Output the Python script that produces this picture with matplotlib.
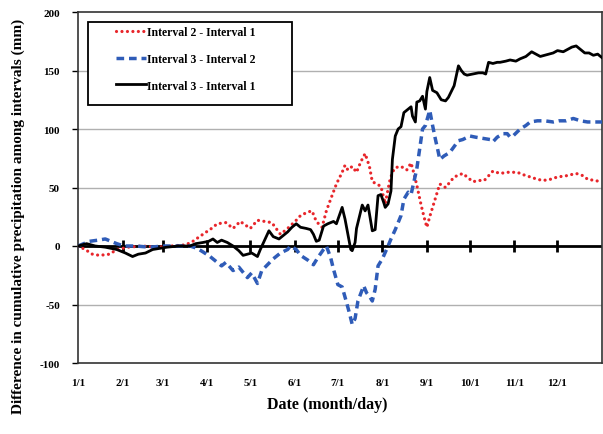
"""Cumulative precipitation differences among intervals"""

import matplotlib
matplotlib.use('Agg')
import matplotlib.pyplot as plt
from matplotlib.patches import Rectangle

# day of year (0 = 1/1) and value in mm
red_days = [0, 5, 10, 15, 22, 27, 35, 45, 55, 65, 75, 80, 87, 93, 97, 103, 108,
            113, 120, 125, 130, 135, 141, 146, 152, 155, 160, 163, 166, 170, 173,
            176, 180, 184, 186, 188, 191, 194, 197, 200, 203, 205, 208, 211, 214,
            217, 219, 221, 225, 229, 232, 234, 236, 239, 241, 243, 245, 248, 252,
            256, 262, 268, 272, 275, 280, 283, 289, 294, 299, 306, 310, 315, 320,
            324, 329, 334, 340, 347, 352, 355, 360, 364]
red_vals = [0, -3, -7, -8, -7, -3, -1, 0, -1, 0, 1, 4, 10, 15, 19, 20, 15,
            21, 15, 22, 21, 20, 10, 15, 22, 26, 29, 30, 21, 16, 30,
            40, 53, 63, 69, 65, 68, 63, 72, 79, 68, 55, 53, 51, 36,
            55, 63, 67, 68, 65, 71, 62, 52, 35, 25, 16, 25, 37, 53,
            50, 59, 62, 58, 55, 56, 56, 64, 62, 63, 63, 61, 59, 57,
            56, 57, 59, 60, 62, 60, 57, 56, 55]

blue_days = [0, 4, 8, 14, 19, 23, 27, 32, 40, 50, 60, 70, 78, 83, 87, 92, 97,
             100, 103, 108, 112, 118, 121, 125, 128, 132, 136, 141, 146, 148,
             152, 155, 160, 164, 167, 171, 173, 176, 178, 181, 184, 187, 189,
             191, 193, 195, 199, 201, 203, 205, 207, 209, 212, 216, 218, 221,
             225, 227, 230, 232, 234, 236, 238, 240, 242, 245, 247, 249, 251,
             252, 255, 259, 262, 265, 268, 273, 277, 282, 287, 289, 292, 296,
             299, 301, 303, 308, 312, 315, 320, 325, 331, 335, 340, 345, 350,
             355, 360, 365]
blue_vals = [0, 2, 4, 5, 6, 4, 2, 0, 0, -1, 0, 0, 0, -2, -5, -9, -14,
             -17, -14, -21, -18, -27, -23, -32, -21, -16, -11, -6, -3, 0,
             -3, -8, -12, -16, -10, -3, 0, -10, -20, -33, -35, -48, -57,
             -67, -62, -47, -34, -40, -43, -47, -37, -17, -11, 0, 6, 14,
             26, 40, 46, 44, 55, 66, 83, 100, 103, 116, 103, 91, 80,
             74, 77, 80, 85, 90, 91, 94, 93, 92, 91, 89, 93, 96,
             96, 93, 94, 100, 103, 106, 107, 107, 106, 107, 107, 109, 107,
             106, 106, 106]

black_days = [0, 6, 12, 19, 27, 33, 38, 42, 47, 52, 57, 62, 70, 78, 82, 87, 91,
              94, 97, 100, 104, 108, 112, 115, 118, 121, 125, 127, 130, 133,
              136, 140, 143, 146, 149, 152, 155, 159, 162, 164, 166, 168, 171,
              174, 178, 180, 184, 186, 188, 190, 191, 193, 194, 196, 198, 200,
              202, 205, 207, 209, 211, 213, 214, 216, 218, 219, 221, 223, 225,
              227, 230, 232, 233, 235, 236, 238, 240, 242, 243, 245, 247, 250,
              253, 256, 258, 260, 262, 265, 267, 269, 271, 275, 279, 282, 284,
              286, 289, 292, 294, 298, 301, 305, 308, 312, 316, 319, 322, 325,
              328, 331, 334, 338, 341, 344, 347, 350, 353, 356, 359, 362, 365]
black_vals = [0, 2, 0, -1, -3, -6, -9, -7, -6, -3, -2, -1, 0, 0, 2, 3, 4,
              6, 3, 5, 3, 0, -4, -8, -7, -6, -9, -3, 5, 13,
              8, 6, 9, 12, 16, 19, 16, 15, 14, 10, 4, 5, 17,
              19, 21, 19, 33, 23, 10, -3, -4, 3, 15, 25, 35, 30,
              35, 13, 14, 43, 44, 37, 33, 36, 47, 74, 94, 100, 102,
              114, 117, 119, 111, 106, 123, 124, 128, 117, 132, 144, 133, 131,
              125, 124, 127, 132, 137, 154, 150, 147, 146, 147, 148, 148, 147,
              157, 156, 157, 157, 158, 159, 158, 160, 162, 166, 164, 162, 163,
              164, 165, 167, 166, 168, 170, 171, 168, 165, 165, 163, 164, 161]

month_days = [0, 31, 59, 90, 120, 151, 181, 212, 243, 273, 304, 334]
month_labels = ['1/1', '2/1', '3/1', '4/1', '5/1', '6/1',
                '7/1', '8/1', '9/1', '10/1', '11/1', '12/1']
y_ticks = [-100, -50, 0, 50, 100, 150, 200]

series_names = ['Interval 2 - Interval 1', 'Interval 3 - Interval 2',
                'Interval 3 - Interval 1']

plt.rcParams['font.family'] = ['Liberation Serif', 'DejaVu Serif']
plt.rcParams['font.weight'] = 'bold'
plt.rcParams['axes.unicode_minus'] = False

fig = plt.figure(figsize=(6.03, 4.35), dpi=100)
ax = fig.add_axes([78 / 603, 1 - 364 / 435, 524 / 603, 351 / 435])

ax.set_xlim(0, 365)
ax.set_ylim(-100, 200)

for y in [-50, 50, 100, 150]:
    ax.axhline(y, color='#b0b0b0', lw=1, zorder=0)

red, = ax.plot(red_days, red_vals, color='#e8262b', lw=2.3,
               linestyle=(0, (0.01, 1.7)), dash_capstyle='round', zorder=3)
blue, = ax.plot(blue_days, blue_vals, color='#2f5cb8', lw=2.5,
                linestyle=(0, (2.2, 1.4)), zorder=3)
black, = ax.plot(black_days, black_vals, color='black', lw=2, zorder=4)

# category axis crossing at zero, with month tick marks
ax.axhline(0, color='black', lw=2, zorder=2)
ax.plot(month_days[1:], [0] * (len(month_days) - 1), linestyle='none',
        marker='|', markersize=8, markeredgewidth=2, color='black', zorder=2)

ax.set_xticks(month_days)
ax.set_xticklabels(month_labels, fontsize=8, fontweight='bold')
ax.tick_params(axis='x', length=0, pad=11)
ax.set_yticks(y_ticks)
ax.tick_params(axis='y', length=4, width=1, pad=9, labelsize=8)
for s in ax.spines.values():
    s.set_color('#333333')
    s.set_linewidth(1.2)

fig.text(18 / 603, 1 - 216 / 435,
         'Difference in cumulative precipitation among intervals (mm)',
         rotation=90, ha='center', va='center', fontsize=11,
         fontweight='bold')
fig.text(327 / 603, 1 - 405 / 435, 'Date (month/day)', ha='center',
         va='center', fontsize=11.5, fontweight='bold')

# legend frame drawn separately so it can be wider than its content
ax.add_patch(Rectangle(((88 - 78) / 524, (364 - 106) / 351), 204 / 524,
                       83 / 351, transform=ax.transAxes, facecolor='white',
                       edgecolor='black', lw=1.3, zorder=5))
leg = ax.legend([red, blue, black], series_names, loc='upper left',
                bbox_to_anchor=((116 - 78) / 524, (364 - 27) / 351),
                frameon=False, borderaxespad=0, borderpad=0, handlelength=2.5,
                handletextpad=0.1, labelspacing=1.25,
                prop={'size': 8.5, 'weight': 'bold'})
leg.set_zorder(6)

fig.savefig('out.png', dpi=100)
